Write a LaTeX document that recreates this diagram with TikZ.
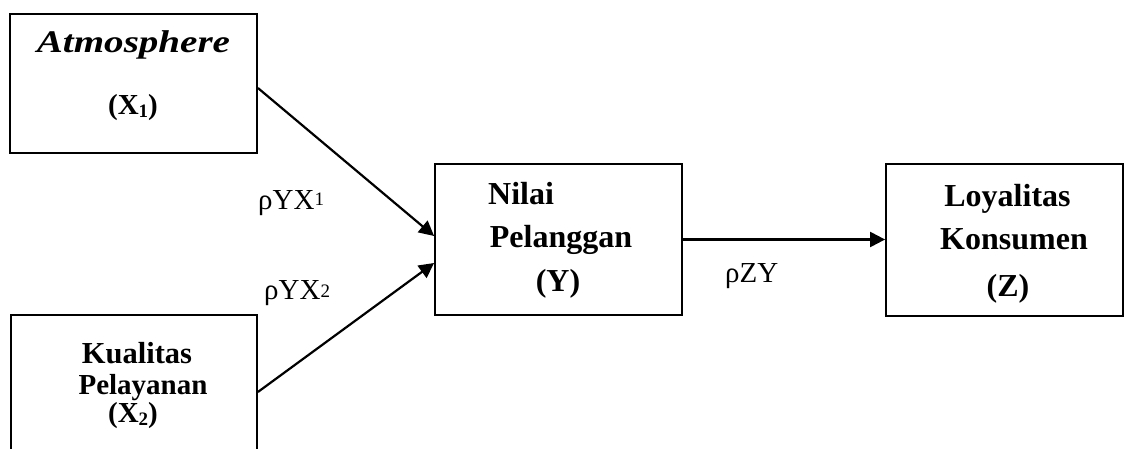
\documentclass[tikz,border=0pt]{standalone}
\usepackage{fontspec}
\setmainfont{Liberation Serif}
\usetikzlibrary{arrows.meta}
\newcommand\mysub[1]{\raisebox{-3pt}{\fontsize{19}{19}\selectfont #1}}
\newcommand\labsub[2]{\raisebox{#1}{\fontsize{19}{19}\selectfont #2}}
\begin{document}
\begin{tikzpicture}[x=1pt,y=-1pt,
  box/.style={draw,line width=1.8pt,inner sep=0pt},
  txt/.style={font=\fontsize{29}{30}\selectfont\bfseries,anchor=base,inner sep=0pt},
  big/.style={font=\fontsize{32}{32}\selectfont\bfseries},
  lab/.style={font=\fontsize{29}{29}\selectfont,anchor=base west,inner sep=0pt},
  arr/.style={line width=2.2pt,-{Triangle[length=15pt,width=15pt]}}]
\useasboundingbox (0,0) rectangle (1128,449);
\clip (0,0) rectangle (1128,449);
% boxes
\node[box,minimum width=247pt,minimum height=139pt] (x1) at (133.5,83.5) {};
\node[box,minimum width=246pt,minimum height=200pt] (x2) at (134,415) {};
\node[box,minimum width=247pt,minimum height=151pt] (y) at (558.5,239.5) {};
\node[box,minimum width=237pt,minimum height=152pt] (z) at (1004.5,240) {};
% texts
\node[txt] (t1a) at (133.5,53) {\scalebox{1.24}[1]{\fontsize{31.5}{32}\selectfont\itshape Atmosphere}};
\node[txt] (t1b) at (133,115) {(X\mysub{1})};
\node[txt,font=\fontsize{30.5}{30}\selectfont\bfseries] (t2a) at (137,363) {Kualitas};
\node[txt] (t2b) at (143,394) {Pelayanan};
\node[txt] (t2c) at (133,422) {(X\mysub{2})};
\node[txt,big,anchor=base west] (tya) at (488,205) {Nilai};
\node[txt,big] (tyb) at (561,248) {Pelanggan};
\node[txt,big] (tyc) at (558,292) {(Y)};
\node[txt,big] (tza) at (1007.5,207) {Loyalitas};
\node[txt,big] (tzb) at (1014,250) {Konsumen};
\node[txt,big] (tzc) at (1008,297) {(Z)};
% labels
\node[lab] (l1) at (258,210) {ρYX\labsub{4pt}{1}};
\node[lab] (l2) at (264,300) {ρYX\labsub{2pt}{2}};
\node[lab] (l3) at (725,283) {ρZY};
% arrows
\draw[arr] ([yshift=-4.5pt]x1.east) -- ([yshift=3.5pt]y.west);
\draw[arr] ([yshift=23pt]x2.east) -- ([yshift=-23.5pt]y.west);
\draw[arr] (y.east) -- (z.west |- y.east);
\end{tikzpicture}
\end{document}
